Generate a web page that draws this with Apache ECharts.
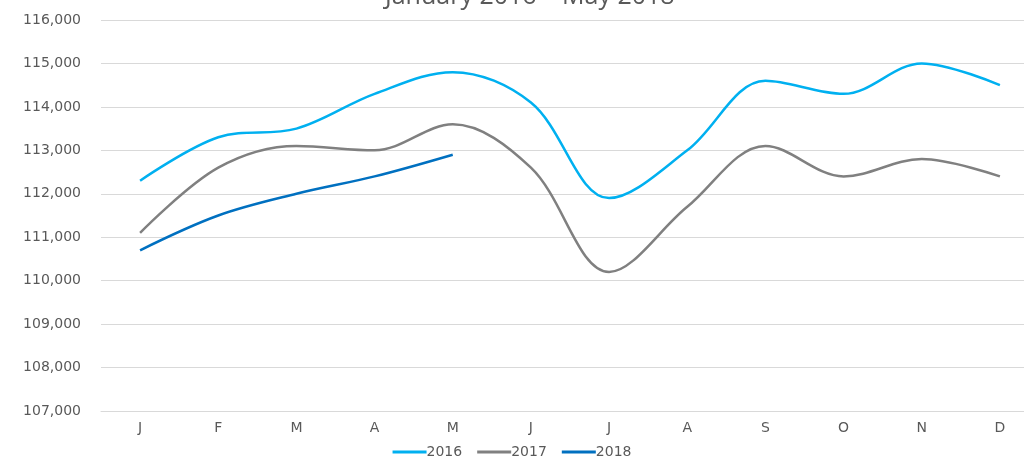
<!DOCTYPE html>
<html>
<head>
<meta charset="utf-8">
<script src="https://cdn.jsdelivr.net/npm/echarts@6/dist/echarts.min.js"></script>
<style>
  html, body { margin: 0; padding: 0; background: #fff; }
  #chart { width: 1024px; height: 456px; }
</style>
</head>
<body>
<div id="chart"></div>
<script>
'use strict'

const months = ['J', 'F', 'M', 'A', 'M', 'J', 'J', 'A', 'S', 'O', 'N', 'D']
const values2016 = [112300, 113300, 113500, 114300, 114800, 114100, 111900, 113000, 114600, 114300, 115000, 114500]
const values2017 = [111100, 112600, 113100, 113000, 113600, 112600, 110200, 111700, 113100, 112400, 112800, 112400]
const values2018 = [110700, 111500, 112000, 112400, 112900]

const TEXT = '#595959'
const FONT = 'DejaVu Sans'

const chart = echarts.init(document.getElementById('chart'))

function lineSeries (name, data, color) {
  return {
    name,
    type: 'line',
    data,
    smooth: 0.35,
    symbol: 'none',
    lineStyle: { color, width: 2.5 },
    itemStyle: { color }
  }
}

chart.setOption({
  animation: false,
  title: {
    text: 'January 2016 – May 2018',
    left: 380,
    top: -21,
    textStyle: { fontFamily: 'Open Sans', fontSize: 25, fontWeight: 'normal', color: TEXT }
  },
  grid: { left: 101, width: 938, top: 20, bottom: 45, outerBoundsMode: 'none' },
  legend: {
    bottom: -8,
    left: 'center',
    icon: 'rect',
    itemWidth: 34,
    itemHeight: 3,
    itemGap: 15,
    textStyle: { fontFamily: FONT, fontSize: 14, color: TEXT, padding: [0, 0, 0, -5] },
    data: ['2016', '2017', '2018']
  },
  xAxis: {
    type: 'category',
    data: months,
    boundaryGap: true,
    axisLine: { show: true, lineStyle: { color: '#D9D9D9' } },
    axisTick: { show: false },
    axisLabel: { fontFamily: FONT, fontSize: 14, color: TEXT, margin: 10 }
  },
  yAxis: {
    type: 'value',
    min: 107000,
    max: 116000,
    interval: 1000,
    axisLine: { show: false },
    axisTick: { show: false },
    splitLine: { lineStyle: { color: '#D9D9D9', width: 1 } },
    axisLabel: {
      fontFamily: FONT,
      fontSize: 14,
      color: TEXT,
      margin: 20,
      formatter: v => v.toLocaleString('en-US')
    }
  },
  series: [
    lineSeries('2016', values2016, '#00B0F0'),
    lineSeries('2017', values2017, '#808080'),
    lineSeries('2018', values2018, '#0070C0')
  ]
})
</script>
</body>
</html>
